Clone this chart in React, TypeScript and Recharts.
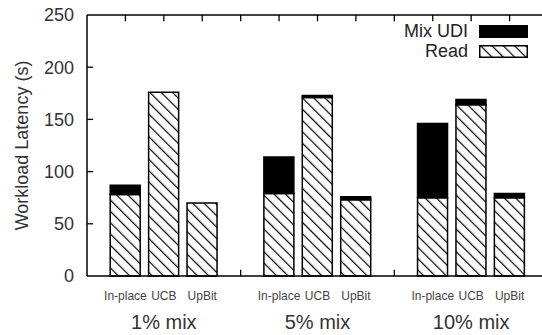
import { BarChart, Bar, XAxis, YAxis, ReferenceLine } from 'recharts'

const groups = ['1% mix', '5% mix', '10% mix']
const methods = ['In-place', 'UCB', 'UpBit']
const readLatency = [78, 176, 70, 79, 171, 73, 75, 164, 75]
const udiLatency = [9, 0, 0, 35, 2, 3, 71, 5, 4]
const yTicks = [0, 50, 100, 150, 200, 250]
const slotTicks = [0, 1, 2, 3, 4, 5, 6, 7, 8, 9, 10, 11, 12]
const gapSlots = [4, 8]

// three bars per group, then one empty slot as the gap
const data = readLatency.map((read, i) => ({
  slot: Math.floor(i / 3) * 4 + (i % 3) + 1,
  method: methods[i % 3],
  group: groups[Math.floor(i / 3)],
  middle: i % 3 === 1,
  read,
  udi: udiLatency[i],
}))

const font = '"Liberation Sans", Arial, sans-serif'
// inward tick lengths in data units
const tickY = 6
const tickX = 0.16

function SlotTick({ x, y, payload }: any) {
  const d = data.find((row) => row.slot === payload.value)
  if (!d) return <g />
  return (
    <g>
      <text x={x} y={y + 24} textAnchor="middle" fontSize={12} fill="#444" fontFamily={font}>
        {d.method}
      </text>
      {d.middle && (
        <text x={x} y={y + 53} textAnchor="middle" fontSize={20} fill="#333" fontFamily={font}>
          {d.group}
        </text>
      )}
    </g>
  )
}

function YLabel({ viewBox }: any) {
  const cx = viewBox.x + 22
  const cy = viewBox.y + viewBox.height / 2
  return (
    <text
      x={cx}
      y={cy}
      transform={`rotate(-90 ${cx} ${cy})`}
      textAnchor="middle"
      dominantBaseline="central"
      fontSize={18}
      fill="#333"
      fontFamily={font}
    >
      Workload Latency (s)
    </text>
  )
}

function Hatch({ id }: { id: string }) {
  return (
    <pattern id={id} width={8} height={8} patternUnits="userSpaceOnUse" patternTransform="rotate(-45)">
      <rect width={8} height={8} fill="#fff" />
      <line x1={0} y1={0} x2={0} y2={8} stroke="#000" strokeWidth={2.4} />
    </pattern>
  )
}

function LegendBox() {
  const rows = [
    { name: 'Mix UDI', fill: '#000' },
    { name: 'Read', fill: 'url(#hatchLegend)' },
  ]
  return (
    <div style={{ position: 'absolute', left: 358, top: 21, width: 170, fontFamily: font, fontSize: 18, color: '#222' }}>
      {rows.map((r) => (
        <div key={r.name} style={{ display: 'flex', justifyContent: 'flex-end', alignItems: 'center', height: 20 }}>
          <span style={{ marginRight: 11 }}>{r.name}</span>
          <svg width={49} height={13}>
            <defs>
              <Hatch id="hatchLegend" />
            </defs>
            <rect x={0.75} y={0.75} width={47.5} height={11.5} fill={r.fill} stroke="#000" strokeWidth={1.5} />
          </svg>
        </div>
      ))}
    </div>
  )
}

export default function App() {
  return (
    <div style={{ position: 'relative', width: 542, height: 335, overflow: 'hidden', background: '#fff' }}>
      <style>{'body{margin:0}'}</style>
      <BarChart width={548} height={335} data={data} margin={{ top: 15, right: 0, left: 0, bottom: 0 }}>
        <defs>
          <Hatch id="hatchRead" />
        </defs>
        <XAxis
          type="number"
          dataKey="slot"
          domain={[0, 12]}
          ticks={slotTicks}
          interval={0}
          height={59}
          tickSize={0}
          tickMargin={0}
          tickLine={false}
          tick={<SlotTick />}
          axisLine={{ stroke: '#000', strokeWidth: 1.5 }}
        />
        <YAxis
          domain={[0, 250]}
          ticks={yTicks}
          interval={0}
          width={87}
          tickSize={0}
          tickMargin={13}
          tickLine={false}
          axisLine={{ stroke: '#000', strokeWidth: 1.5 }}
          tick={{ fill: '#333', fontSize: 18, fontFamily: font }}
          label={<YLabel />}
        />
        <ReferenceLine y={250} stroke="#000" strokeWidth={1.5} />
        {slotTicks.slice(1, -1).map((s) => (
          <ReferenceLine key={`t${s}`} segment={[{ x: s, y: 250 }, { x: s, y: 250 - tickY }]} stroke="#000" strokeWidth={1.3} />
        ))}
        {yTicks.slice(1, -1).map((v) => (
          <ReferenceLine
            key={`l${v}`}
            segment={[{ x: 0.01, y: v }, { x: tickX, y: v }]}
            ifOverflow="visible"
            stroke="#000"
            strokeWidth={1.3}
          />
        ))}
        {gapSlots.map((s) => (
          <ReferenceLine key={`g${s}`} segment={[{ x: s, y: 0 }, { x: s, y: tickY }]} stroke="#000" strokeWidth={1.3} />
        ))}
        <Bar dataKey="read" stackId="a" barSize={30} fill="url(#hatchRead)" stroke="#000" strokeWidth={1.5} isAnimationActive={false} />
        <Bar dataKey="udi" stackId="a" barSize={30} fill="#000" stroke="#000" strokeWidth={1.5} isAnimationActive={false} />
      </BarChart>
      <LegendBox />
    </div>
  )
}
